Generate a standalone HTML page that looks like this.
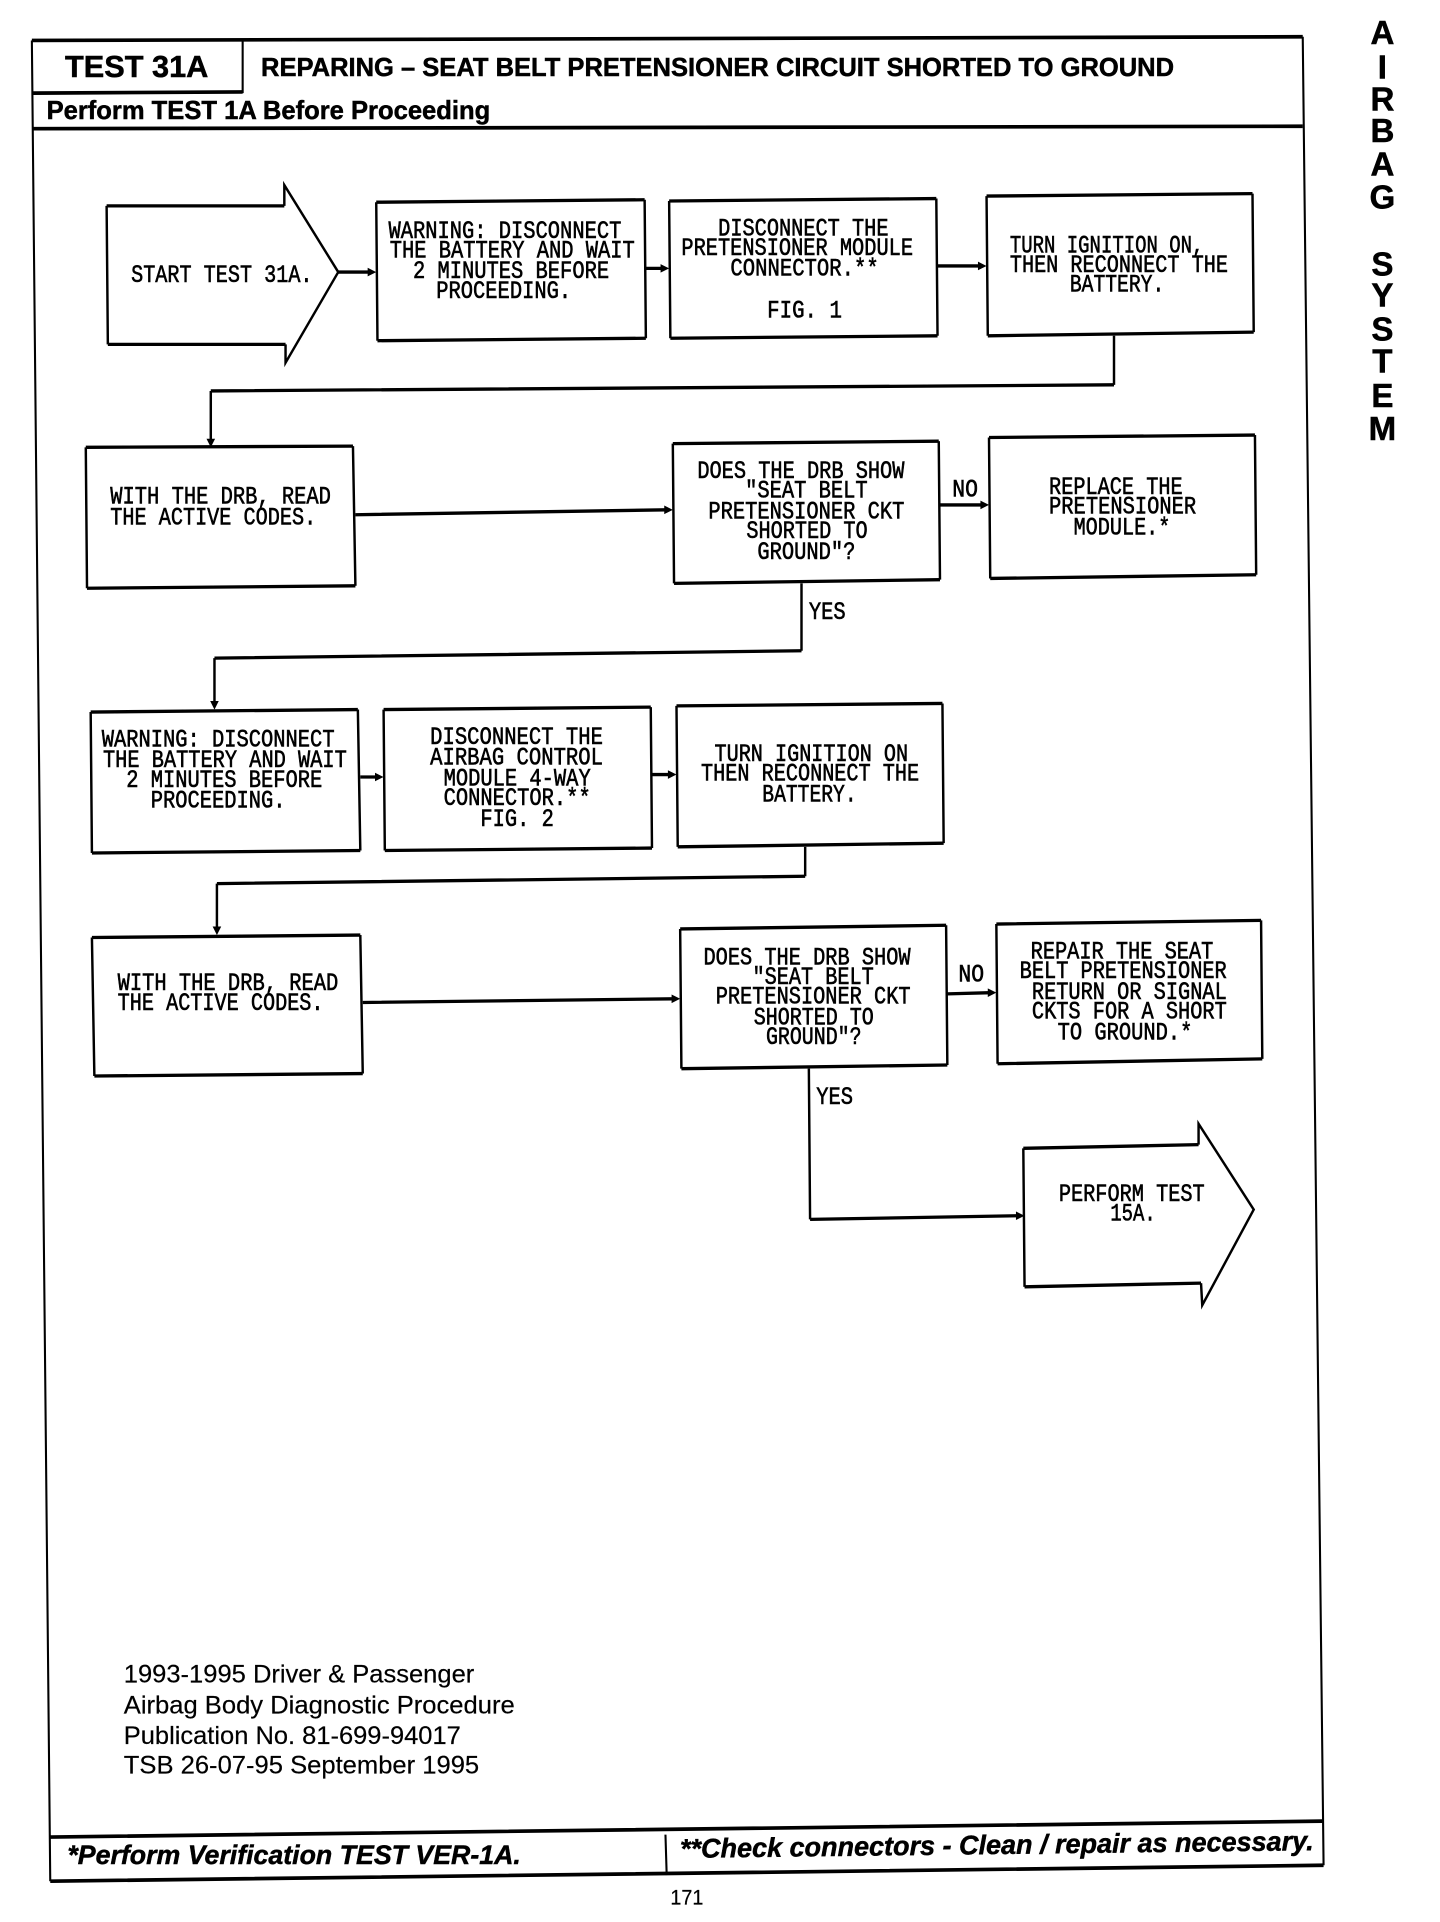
<!DOCTYPE html>
<html><head><meta charset="utf-8"><title>Test 31A</title>
<style>
html,body{margin:0;padding:0;background:#fff;width:1440px;height:1922px;overflow:hidden}
svg{display:block;position:absolute;left:0;top:0}
.m text{font-family:"Liberation Mono",monospace;font-size:20.500px;stroke:#000;stroke-width:.5;fill:#000}
.h{font-family:"Liberation Sans",sans-serif;font-weight:bold;fill:#000;stroke:#000;stroke-width:.4}
.n{font-family:"Liberation Sans",sans-serif;font-size:20px;fill:#000;stroke:#000;stroke-width:.15}
.i{font-family:"Liberation Sans",sans-serif;font-weight:bold;font-style:italic;font-size:22px;fill:#000;stroke:#000;stroke-width:.4}
.s text{font-family:"Liberation Sans",sans-serif;font-weight:bold;font-size:27px;text-anchor:middle;fill:#000;stroke:#000;stroke-width:.4}
</style></head><body>
<svg width="1440" height="1922" viewBox="0 0 1175 1568.300" xmlns="http://www.w3.org/2000/svg">
<rect width="1175" height="1568.300" fill="#fff"/>
<!-- frame -->
<path d="M1063 30L1080 1522M26 33L41 1535" fill="none" stroke="#000" stroke-width="1.700"/>
<path d="M26 33L1063 30M27 105L1063 103M41 1535L1080 1522M41 1499L1079 1486" fill="none" stroke="#000" stroke-width="3"/>
<path d="M198 33L198 76M543 1497L544 1530" fill="none" stroke="#000" stroke-width="1.700"/>
<path d="M27 76L198 75" fill="none" stroke="#000" stroke-width="3"/>
<!-- verticals of shapes -->
<g fill="none" stroke="#000" stroke-width="2">
<path d="M87 168L88 281M232 168L232 151L276 222L233 296L233 281"/>
<path d="M307 165L308 278M526 163L527 276M546 164L547 276M764 162L765 274M805 160L806 274M1022 158L1023 271"/>
<path d="M70 365L71 480M288 364L290 478M549 362L550 476M766 360L767 473M807 357L808 472M1024 355L1025 469"/>
<path d="M74 581L75 696M292 579L294 694M313 579L314 694M531 577L532 692M552 576L553 691M769 574L770 688"/>
<path d="M75 765L77 878M294 763L296 876M555 758L556 872M772 755L773 869M813 754L814 868M1029 751L1030 864"/>
<path d="M835 937L836 1050M978 934L978 917L1023 987L981 1065L980 1047"/>
<path d="M909 274L909 314M172 319L172 362M654 476L654 531M175 537L175 576M657 691L657 715M177 721L177 760M660 872L661 995"/>
</g>
<!-- horizontals of shapes -->
<g fill="none" stroke="#000" stroke-width="2.700">
<path d="M87 168L232 168M88 281L233 281"/>
<path d="M307 165L526 163M308 278L527 276M546 164L764 162M547 276L765 274M805 160L1022 158M806 274L1023 271"/>
<path d="M70 365L288 364M71 480L290 478M549 362L766 360M550 476L767 473M807 357L1024 355M808 472L1025 469"/>
<path d="M74 581L292 579M75 696L294 694M313 579L531 577M314 694L532 692M552 576L769 574M553 691L770 688"/>
<path d="M75 765L294 763M77 878L296 876M555 758L772 755M556 872L773 869M813 754L1029 751M814 868L1030 864"/>
<path d="M835 937L978 934M836 1050L980 1047"/>
<path d="M909 314L172 319M654 531L175 537M657 715L177 721M661 995L830 992"/>
<path d="M276 222L302 222M527 219L541 219M765 217L800 217M290 420L544 416M767 412L802 412M294 634L308 634M532 632L547 632M296 818L550 815M773 811L808 810"/>
</g>
<!-- arrowheads -->
<g fill="#000">
<path d="M307 222L300 218.500L300 225.500Z"/>
<path d="M546 219L539 215.500L539 222.500Z"/>
<path d="M805 217L798 213.500L798 220.500Z"/>
<path d="M172 365L168.500 358L175.500 358Z"/>
<path d="M549 416L542 412.500L542 419.500Z"/>
<path d="M807 412L800 408.500L800 415.500Z"/>
<path d="M175 579L171.500 572L178.500 572Z"/>
<path d="M313 634L306 630.500L306 637.500Z"/>
<path d="M552 632L545 628.500L545 635.500Z"/>
<path d="M177 763L173.500 756L180.500 756Z"/>
<path d="M555 815L548 811.500L548 818.500Z"/>
<path d="M813 810L806 806.500L806 813.500Z"/>
<path d="M836 992L829 988.500L829 995.500Z"/>
</g>
<!-- headings -->
<text class="h" x="53" y="63" font-size="25" textLength="117" lengthAdjust="spacingAndGlyphs">TEST 31A</text>
<text class="h" x="213" y="62" font-size="21" textLength="745" lengthAdjust="spacingAndGlyphs">REPARING – SEAT BELT PRETENSIONER CIRCUIT SHORTED TO GROUND</text>
<text class="h" x="38" y="97" font-size="21" textLength="362" lengthAdjust="spacingAndGlyphs">Perform TEST 1A Before Proceeding</text>
<!-- side label -->
<g class="s">
<text x="1128" y="36">A</text><text x="1128" y="64">I</text><text x="1128" y="90">R</text><text x="1128" y="116">B</text><text x="1128" y="143">A</text><text x="1128" y="170">G</text>
<text x="1128" y="225">S</text><text x="1128" y="250">Y</text><text x="1128" y="278">S</text><text x="1128" y="304">T</text><text x="1128" y="332">E</text><text x="1128" y="359">M</text>
</g>
<!-- flow text -->
<g class="m" lengthAdjust="spacingAndGlyphs">
<text x="107" y="230" textLength="148" lengthAdjust="spacingAndGlyphs">START TEST 31A.</text>
<text x="317" y="194" textLength="190" lengthAdjust="spacingAndGlyphs">WARNING: DISCONNECT</text>
<text x="318" y="210" textLength="200" lengthAdjust="spacingAndGlyphs">THE BATTERY AND WAIT</text>
<text x="337" y="227" textLength="160" lengthAdjust="spacingAndGlyphs">2 MINUTES BEFORE</text>
<text x="356" y="243" textLength="110" lengthAdjust="spacingAndGlyphs">PROCEEDING.</text>
<text x="586" y="192" textLength="139" lengthAdjust="spacingAndGlyphs">DISCONNECT THE</text>
<text x="556" y="208" textLength="189" lengthAdjust="spacingAndGlyphs">PRETENSIONER MODULE</text>
<text x="596" y="225" textLength="121" lengthAdjust="spacingAndGlyphs">CONNECTOR.**</text>
<text x="626" y="259" textLength="61" lengthAdjust="spacingAndGlyphs">FIG. 1</text>
<text x="824" y="206" textLength="158" lengthAdjust="spacingAndGlyphs">TURN IGNITION ON,</text>
<text x="824" y="222" textLength="178" lengthAdjust="spacingAndGlyphs">THEN RECONNECT THE</text>
<text x="873" y="238" textLength="77" lengthAdjust="spacingAndGlyphs">BATTERY.</text>
<text x="90" y="411" textLength="180" lengthAdjust="spacingAndGlyphs">WITH THE DRB, READ</text>
<text x="90" y="428" textLength="168" lengthAdjust="spacingAndGlyphs">THE ACTIVE CODES.</text>
<text x="569" y="390" textLength="169" lengthAdjust="spacingAndGlyphs">DOES THE DRB SHOW</text>
<text x="608" y="406" textLength="100" lengthAdjust="spacingAndGlyphs">"SEAT BELT</text>
<text x="578" y="423" textLength="160" lengthAdjust="spacingAndGlyphs">PRETENSIONER CKT</text>
<text x="609" y="439" textLength="99" lengthAdjust="spacingAndGlyphs">SHORTED TO</text>
<text x="618" y="456" textLength="80" lengthAdjust="spacingAndGlyphs">GROUND"?</text>
<text x="856" y="403" textLength="109" lengthAdjust="spacingAndGlyphs">REPLACE THE</text>
<text x="856" y="419" textLength="120" lengthAdjust="spacingAndGlyphs">PRETENSIONER</text>
<text x="876" y="436" textLength="79" lengthAdjust="spacingAndGlyphs">MODULE.*</text>
<text x="777" y="405" textLength="21" lengthAdjust="spacingAndGlyphs">NO</text>
<text x="660" y="505" textLength="30" lengthAdjust="spacingAndGlyphs">YES</text>
<text x="83" y="609" textLength="190" lengthAdjust="spacingAndGlyphs">WARNING: DISCONNECT</text>
<text x="84" y="626" textLength="199" lengthAdjust="spacingAndGlyphs">THE BATTERY AND WAIT</text>
<text x="103" y="642" textLength="160" lengthAdjust="spacingAndGlyphs">2 MINUTES BEFORE</text>
<text x="123" y="659" textLength="110" lengthAdjust="spacingAndGlyphs">PROCEEDING.</text>
<text x="351" y="607" textLength="141" lengthAdjust="spacingAndGlyphs">DISCONNECT THE</text>
<text x="351" y="624" textLength="141" lengthAdjust="spacingAndGlyphs">AIRBAG CONTROL</text>
<text x="362" y="641" textLength="120" lengthAdjust="spacingAndGlyphs">MODULE 4-WAY</text>
<text x="362" y="657" textLength="120" lengthAdjust="spacingAndGlyphs">CONNECTOR.**</text>
<text x="392" y="674" textLength="60" lengthAdjust="spacingAndGlyphs">FIG. 2</text>
<text x="583" y="621" textLength="158" lengthAdjust="spacingAndGlyphs">TURN IGNITION ON</text>
<text x="572" y="637" textLength="178" lengthAdjust="spacingAndGlyphs">THEN RECONNECT THE</text>
<text x="622" y="654" textLength="77" lengthAdjust="spacingAndGlyphs">BATTERY.</text>
<text x="96" y="808" textLength="180" lengthAdjust="spacingAndGlyphs">WITH THE DRB, READ</text>
<text x="96" y="824" textLength="168" lengthAdjust="spacingAndGlyphs">THE ACTIVE CODES.</text>
<text x="574" y="787" textLength="169" lengthAdjust="spacingAndGlyphs">DOES THE DRB SHOW</text>
<text x="614" y="803" textLength="99" lengthAdjust="spacingAndGlyphs">"SEAT BELT</text>
<text x="584" y="819" textLength="159" lengthAdjust="spacingAndGlyphs">PRETENSIONER CKT</text>
<text x="615" y="836" textLength="98" lengthAdjust="spacingAndGlyphs">SHORTED TO</text>
<text x="625" y="852" textLength="78" lengthAdjust="spacingAndGlyphs">GROUND"?</text>
<text x="841" y="782" textLength="149" lengthAdjust="spacingAndGlyphs">REPAIR THE SEAT</text>
<text x="832" y="798" textLength="169" lengthAdjust="spacingAndGlyphs">BELT PRETENSIONER</text>
<text x="842" y="815" textLength="159" lengthAdjust="spacingAndGlyphs">RETURN OR SIGNAL</text>
<text x="842" y="831" textLength="159" lengthAdjust="spacingAndGlyphs">CKTS FOR A SHORT</text>
<text x="863" y="848" textLength="110" lengthAdjust="spacingAndGlyphs">TO GROUND.*</text>
<text x="782" y="801" textLength="21" lengthAdjust="spacingAndGlyphs">NO</text>
<text x="666" y="901" textLength="30" lengthAdjust="spacingAndGlyphs">YES</text>
<text x="864" y="980" textLength="119" lengthAdjust="spacingAndGlyphs">PERFORM TEST</text>
<text x="906" y="996" textLength="37" lengthAdjust="spacingAndGlyphs">15A.</text>
</g>
<!-- publication note -->
<text class="n" x="101" y="1373" textLength="286" lengthAdjust="spacingAndGlyphs">1993-1995 Driver &amp; Passenger</text>
<text class="n" x="101" y="1398" textLength="319" lengthAdjust="spacingAndGlyphs">Airbag Body Diagnostic Procedure</text>
<text class="n" x="101" y="1423" textLength="275" lengthAdjust="spacingAndGlyphs">Publication No. 81-699-94017</text>
<text class="n" x="101" y="1447" textLength="290" lengthAdjust="spacingAndGlyphs">TSB 26-07-95 September 1995</text>
<!-- footer -->
<text class="i" x="55" y="1521" textLength="370" lengthAdjust="spacingAndGlyphs">*Perform Verification TEST VER-1A.</text>
<text class="i" x="555" y="1516" textLength="517" lengthAdjust="spacingAndGlyphs" transform="rotate(-0.7 555 1516)">**Check connectors - Clean / repair as necessary.</text>
<text class="n" x="547" y="1554" style="font-size:17px" textLength="27" lengthAdjust="spacingAndGlyphs">171</text>
</svg>
</body></html>
